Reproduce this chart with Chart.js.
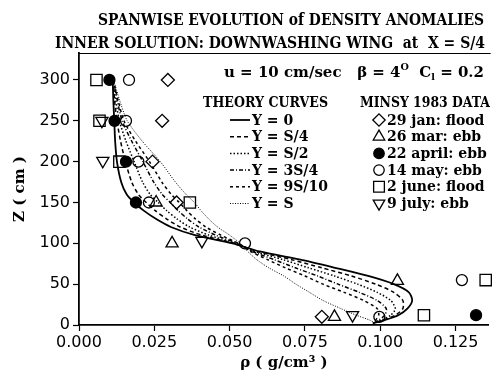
<!DOCTYPE html>
<html>
<head>
<meta charset="utf-8">
<script src="https://cdn.jsdelivr.net/npm/chart.js@4.4.1/dist/chart.umd.min.js"></script>
<style>
  html, body { margin: 0; padding: 0; background: #fff; }
</style>
</head>
<body>
<canvas id="chart" width="498" height="373"></canvas>
<script>
// depth levels (cm) shared by the theory curves
const zLevels = [300, 275, 250, 225, 200, 175, 160, 150, 140, 130, 120, 110, 100, 90, 80, 70, 60, 50, 40, 30, 20, 12, 6, 2];

// theory curves, rho (g/cm3) at each z level
const curveLabels = ['Y = 0', 'Y = S/4', 'Y = S/2', 'Y = 3S/4', 'Y = 9S/10', 'Y = S'];
const rhoY0   = [0.0112, 0.0114, 0.0117, 0.0120, 0.0126, 0.0140, 0.0158, 0.0183, 0.0215, 0.0255, 0.0305, 0.0385, 0.0510, 0.0600, 0.0735, 0.0850, 0.0960, 0.1045, 0.1095, 0.1106, 0.1090, 0.1060, 0.1015, 0.0975];
const rhoS4   = [0.0113, 0.0118, 0.0126, 0.0138, 0.0154, 0.0175, 0.0197, 0.0223, 0.0253, 0.0290, 0.0336, 0.0408, 0.0515, 0.0592, 0.0706, 0.0806, 0.0904, 0.0985, 0.1045, 0.1075, 0.1075, 0.1050, 0.1010, 0.0976];
const rhoS2   = [0.0113, 0.0122, 0.0134, 0.0156, 0.0183, 0.0211, 0.0236, 0.0263, 0.0291, 0.0325, 0.0367, 0.0431, 0.0520, 0.0584, 0.0677, 0.0762, 0.0848, 0.0925, 0.0990, 0.1035, 0.1050, 0.1035, 0.1005, 0.0977];
const rho3S4  = [0.0114, 0.0127, 0.0143, 0.0175, 0.0212, 0.0248, 0.0276, 0.0303, 0.0329, 0.0360, 0.0398, 0.0454, 0.0525, 0.0576, 0.0648, 0.0718, 0.0792, 0.0860, 0.0930, 0.0990, 0.1020, 0.1015, 0.0995, 0.0978];
const rho9S10 = [0.0114, 0.0130, 0.0149, 0.0188, 0.0234, 0.0275, 0.0306, 0.0333, 0.0358, 0.0386, 0.0421, 0.0471, 0.0529, 0.0570, 0.0626, 0.0685, 0.0750, 0.0810, 0.0880, 0.0945, 0.0990, 0.0995, 0.0985, 0.0979];
const rhoS    = [0.0115, 0.0135, 0.0160, 0.0210, 0.0270, 0.0320, 0.0355, 0.0383, 0.0405, 0.0430, 0.0460, 0.0500, 0.0535, 0.0560, 0.0590, 0.0630, 0.0680, 0.0720, 0.0765, 0.0810, 0.0870, 0.0920, 0.0965, 0.0985];

// MINSY 1983 observations
const dataLabels = ['29 jan: flood', '26 mar: ebb', '22 april: ebb', '14 may: ebb', '2 june: flood', '9 july: ebb'];
const jan29Rho = [0.0295, 0.0276, 0.0244, 0.0324, 0.0806];
const jan29Z   = [300, 250, 200, 150, 10];
const mar26Rho = [0.0256, 0.0309, 0.1057, 0.0848];
const mar26Z   = [150, 100, 54, 10];
const apr22Rho = [0.0101, 0.0118, 0.0156, 0.0189, 0.1318];
const apr22Z   = [300, 250, 200, 150, 12];
const may14Rho = [0.0166, 0.0156, 0.0197, 0.0232, 0.0551, 0.1271, 0.0997];
const may14Z   = [300, 250, 200, 150, 100, 55, 10];
const jun2Rho  = [0.0058, 0.0068, 0.0134, 0.0368, 0.1350, 0.1145];
const jun2Z    = [300, 250, 200, 150, 55, 12];
const jul9Rho  = [0.0076, 0.0079, 0.0408, 0.0908];
const jul9Z    = [250, 201, 103, 12];

const xTicks = [0, 0.025, 0.05, 0.075, 0.1, 0.125];
const yTicks = [0, 50, 100, 150, 200, 250, 300];

const pts = (xs, ys) => xs.map((x, i) => ({x: x, y: ys[i]}));

const curveStyles = [
    {dash: [], width: 1.8},
    {dash: [4, 3], width: 1.5},
    {dash: [1.5, 2], width: 1.5},
    {dash: [4, 2, 1, 2], width: 1.5},
    {dash: [3, 3], width: 1.5},
    {dash: [1, 1.5], width: 1}
];
const curveData = [rhoY0, rhoS4, rhoS2, rho3S4, rho9S10, rhoS];

const curveSets = curveData.map((rho, i) => ({
    label: curveLabels[i],
    data: pts(rho, zLevels),
    showLine: true,
    borderColor: '#000',
    borderWidth: curveStyles[i].width,
    borderDash: curveStyles[i].dash,
    pointRadius: 0,
    tension: 0.25,
    fill: false,
    clip: false
}));

const markerStyles = [
    {pointStyle: 'rectRot', radius: 6.5, rotation: 0, fill: 'rgba(0,0,0,0)'},
    {pointStyle: 'triangle', radius: 7, rotation: 0, fill: 'rgba(0,0,0,0)'},
    {pointStyle: 'circle', radius: 5.5, rotation: 0, fill: '#000'},
    {pointStyle: 'circle', radius: 5.5, rotation: 0, fill: 'rgba(0,0,0,0)'},
    {pointStyle: 'rect', radius: 8, rotation: 0, fill: 'rgba(0,0,0,0)'},
    {pointStyle: 'triangle', radius: 7, rotation: 180, fill: 'rgba(0,0,0,0)'}
];
const obsData = [
    pts(jan29Rho, jan29Z), pts(mar26Rho, mar26Z), pts(apr22Rho, apr22Z),
    pts(may14Rho, may14Z), pts(jun2Rho, jun2Z), pts(jul9Rho, jul9Z)
];
const obsSets = obsData.map((d, i) => ({
    label: dataLabels[i],
    data: d,
    showLine: false,
    pointStyle: markerStyles[i].pointStyle,
    pointRadius: markerStyles[i].radius,
    pointRotation: markerStyles[i].rotation,
    pointBackgroundColor: markerStyles[i].fill,
    pointBorderColor: '#000',
    pointBorderWidth: 1.3,
    clip: false
}));

const SERIF = "'DejaVu Serif', 'Liberation Serif', serif";

// draw text squeezed/stretched to a given width
function fitText(ctx, text, x, y, w, font, align) {
    ctx.font = font;
    const m = ctx.measureText(text).width;
    ctx.save();
    ctx.translate(x, y);
    ctx.scale(w / m, 1);
    ctx.textAlign = align;
    ctx.fillText(text, 0, 0);
    ctx.restore();
}

const annotations = {
    id: 'annotations',
    afterDraw(chart) {
        const ctx = chart.ctx;
        const area = chart.chartArea;
        ctx.save();
        ctx.fillStyle = '#000';
        ctx.strokeStyle = '#000';
        ctx.textBaseline = 'alphabetic';

        // frame top
        ctx.lineWidth = 1;
        ctx.beginPath();
        ctx.moveTo(area.left - 1, area.top + 0.5);
        ctx.lineTo(area.right + 2, area.top + 0.5);
        ctx.stroke();

        // titles
        fitText(ctx, 'SPANWISE EVOLUTION of DENSITY ANOMALIES', 484, 25, 386, 'bold 17px ' + SERIF, 'right');
        fitText(ctx, 'INNER SOLUTION: DOWNWASHING WING  at  X = S/4', 485, 48, 430, 'bold 17px ' + SERIF, 'right');

        // parameters line with super/subscripts
        const segs = [
            {t: 'u = 10 cm/sec   \u03b2 = 4', size: 14, dy: 0},
            {t: 'O', size: 9, dy: -7},
            {t: '  C', size: 14, dy: 0},
            {t: 'l', size: 9, dy: 3},
            {t: ' = 0.2', size: 14, dy: 0}
        ];
        let total = 0;
        segs.forEach(s => { ctx.font = 'bold ' + s.size + 'px ' + SERIF; s.w = ctx.measureText(s.t).width; total += s.w; });
        const sx = 260 / total;
        ctx.save();
        ctx.translate(224, 77);
        ctx.scale(sx, 1);
        ctx.textAlign = 'left';
        let cx = 0;
        segs.forEach(s => { ctx.font = 'bold ' + s.size + 'px ' + SERIF; ctx.fillText(s.t, cx, s.dy); cx += s.w; });
        ctx.restore();

        // legend headers
        fitText(ctx, 'THEORY CURVES', 203, 107, 125, 'bold 14px ' + SERIF, 'left');
        fitText(ctx, 'MINSY 1983 DATA', 360, 107, 130, 'bold 14px ' + SERIF, 'left');

        const rowY = i => 120 + i * 16.7;
        ctx.font = 'bold 14px ' + SERIF;
        ctx.textBaseline = 'middle';
        // theory curve entries
        curveSets.forEach((ds, i) => {
            const y = rowY(i);
            ctx.lineWidth = ds.borderWidth;
            ctx.setLineDash(ds.borderDash);
            ctx.beginPath();
            ctx.moveTo(230, y);
            ctx.lineTo(250, y);
            ctx.stroke();
            ctx.setLineDash([]);
            ctx.textAlign = 'left';
            ctx.fillText(ds.label, 252, y + 1);
        });
        // data entries
        obsSets.forEach((ds, i) => {
            const y = rowY(i);
            ctx.fillStyle = ds.pointBackgroundColor;
            ctx.lineWidth = 1.3;
            Chart.helpers.drawPoint(ctx, {
                pointStyle: ds.pointStyle,
                rotation: ds.pointRotation,
                radius: ds.pointRadius * 0.95,
                borderWidth: 1.3
            }, 379, y);
            ctx.fillStyle = '#000';
            ctx.fillText(ds.label, 387, y + 1);
        });
        ctx.restore();
    }
};

const tickFont = {family: "'DejaVu Sans', sans-serif", size: 16};

new Chart(document.getElementById('chart'), {
    type: 'scatter',
    data: {datasets: curveSets.concat(obsSets)},
    options: {
        responsive: false,
        animation: false,
        layout: {padding: {top: 53, right: 7, left: 0, bottom: 0}},
        plugins: {
            legend: {display: false},
            tooltip: {enabled: false},
            title: {display: false}
        },
        scales: {
            x: {
                type: 'linear',
                min: 0,
                max: 0.136,
                afterBuildTicks: axis => { axis.ticks = xTicks.map(v => ({value: v})); },
                afterFit: axis => { axis.height = 48; },
                ticks: {
                    color: '#000',
                    font: tickFont,
                    padding: 2,
                    maxRotation: 0,
                    callback: v => v.toFixed(3)
                },
                grid: {drawOnChartArea: false, color: '#000', tickLength: 6, tickWidth: 1.2},
                border: {color: '#000', width: 1.8},
                title: {
                    display: true,
                    text: '\u03c1 ( g/cm\u00b3 )',
                    color: '#000',
                    font: {family: SERIF, size: 15, weight: 'bold'},
                    padding: {top: 0, bottom: 1}
                }
            },
            y: {
                type: 'linear',
                min: 0,
                max: 333,
                afterBuildTicks: axis => { axis.ticks = yTicks.map(v => ({value: v})); },
                afterFit: axis => { axis.width = 79; },
                ticks: {color: '#000', font: tickFont, padding: 3},
                grid: {drawOnChartArea: false, color: '#000', tickLength: 6, tickWidth: 1.2},
                border: {color: '#000', width: 1.8},
                title: {
                    display: true,
                    text: 'Z ( cm )',
                    color: '#000',
                    font: {family: SERIF, size: 15, weight: 'bold'},
                    padding: {top: 11, bottom: 0}
                }
            }
        }
    },
    plugins: [annotations]
});
</script>
</body>
</html>
